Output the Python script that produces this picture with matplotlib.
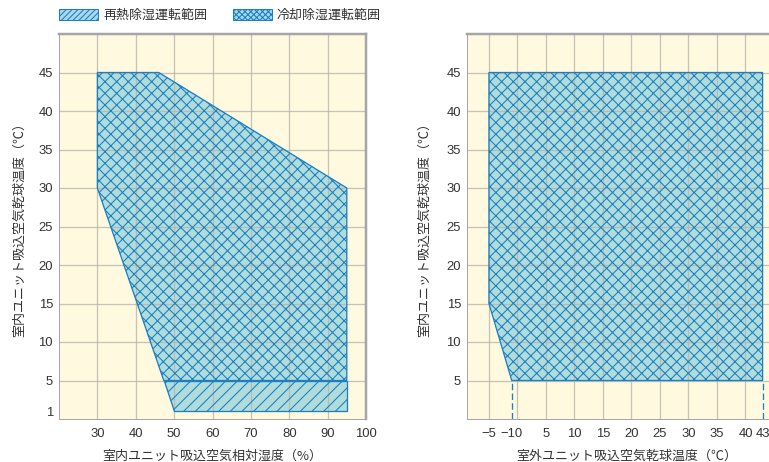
import matplotlib
matplotlib.use("Agg")
import matplotlib.pyplot as plt
from matplotlib.patches import Patch

# ---------------- data ----------------
# left chart: indoor relative humidity (%) vs indoor dry-bulb temperature (deg C)
cool_rh = [30, 46, 95, 95, 47.3, 30]
cool_t = [45, 45, 30, 5, 5, 30]
reheat_rh = [47.3, 95, 95, 50]
reheat_t = [5, 5, 1, 1]
left_xticks = [30, 40, 50, 60, 70, 80, 90, 100]
left_yticks = [1, 5, 10, 15, 20, 25, 30, 35, 40, 45]

# right chart: outdoor dry-bulb temperature vs indoor dry-bulb temperature
out_x = [-5, 43, 43, -1, -5]
out_t = [45, 45, 5, 5, 15]
out_limits = [-1, 43]
right_tick_pos = [-5, -1, 5, 10, 15, 20, 25, 30, 35, 40, 43]
right_tick_lbl = ["\u22125", "\u221210", "5", "10", "15", "20", "25", "30", "35", "40", "43"]
right_grid = [-5, 0, 5, 10, 15, 20, 25, 30, 35, 40]
right_yticks = [5, 10, 15, 20, 25, 30, 35, 40, 45]

legend_labels = ["再熱除湿運転範囲", "冷却除湿運転範囲"]
left_xlabel = "室内ユニット吸込空気相対湿度（%）"
left_ylabel = "室内ユニット吸込空気乾球温度（℃）"
right_xlabel = "室外ユニット吸込空気乾球温度（℃）"
right_ylabel = "室内ユニット吸込空気乾球温度（℃）"

# ---------------- style ----------------
DPI = 70
PX = 72 / DPI  # points per pixel
W, H = 769, 462
BG = "#fffadf"
FILL = "#b1dcdc"
BLUE = "#1a80c4"
GRID = "#b8b5aa"
SPINE = "#a6a6a6"
TXT = "#333333"
CJK = ["Noto Sans CJK JP", "DejaVu Sans"]
NUM = ["Liberation Sans", "DejaVu Sans"]

plt.rcParams["hatch.linewidth"] = 1.1
plt.rcParams["font.family"] = NUM

fig = plt.figure(figsize=(W / DPI, H / DPI), dpi=DPI, facecolor="white")
ax1 = fig.add_axes([59 / W, 43 / H, 307 / W, 385 / H])
ax2 = fig.add_axes([467 / W, 43 / H, 307 / W, 385 / H])


def style_axes(ax, right_thick):
    ax.set_facecolor(BG)
    for s in ax.spines.values():
        s.set_color(SPINE)
        s.set_linewidth(1 * PX)
    ax.spines["top"].set_linewidth(2.5 * PX)
    if right_thick:
        ax.spines["right"].set_linewidth(2.5 * PX)
    else:
        ax.spines["right"].set_visible(False)
    ax.tick_params(length=0, labelsize=13 * PX, colors=TXT)
    ax.tick_params(axis="x", pad=9 * PX)
    ax.tick_params(axis="y", pad=6 * PX)


def region(ax, xs, ys, hatch):
    ax.fill(xs, ys, facecolor=FILL, edgecolor="none", zorder=1)
    ax.fill(xs, ys, facecolor="none", edgecolor=BLUE, hatch=hatch,
            linewidth=1.3 * PX, zorder=3)


# ----- left chart -----
style_axes(ax1, True)
ax1.set_xlim(20, 100)
ax1.set_ylim(0, 50)
for x in left_xticks[:-1]:
    ax1.axvline(x, color=GRID, lw=1.3 * PX, zorder=2, alpha=0.8)
for y in left_yticks[1:]:
    ax1.axhline(y, color=GRID, lw=1.3 * PX, zorder=2, alpha=0.8)
region(ax1, cool_rh, cool_t, "xx")
region(ax1, reheat_rh, reheat_t, "//")
ax1.set_xticks(left_xticks)
ax1.set_yticks(left_yticks)
ax1.set_xlabel(left_xlabel, fontsize=13 * PX, color=TXT, family=CJK, va="center")
ax1.xaxis.set_label_coords(0.5, -0.096)
ax1.set_ylabel(left_ylabel, fontsize=13 * PX, color=TXT, family=CJK, va="center")
ax1.yaxis.set_label_coords((20 - 59) / 307, 0.5)

# ----- right chart -----
style_axes(ax2, False)
ax2.set_xlim(-8.85, 45)
ax2.set_ylim(0, 50)
for x in right_grid:
    ax2.axvline(x, color=GRID, lw=1.3 * PX, zorder=2, alpha=0.8)
for y in right_yticks:
    ax2.axhline(y, color=GRID, lw=1.3 * PX, zorder=2, alpha=0.8)
region(ax2, out_x, out_t, "xx")
ax2.vlines(out_limits, 0, 5, colors=BLUE, linestyles=(0, (5, 2.5)),
           lw=1.3 * PX, zorder=3)
ax2.set_xticks(right_tick_pos)
ax2.set_xticklabels(right_tick_lbl)
ax2.set_yticks(right_yticks)
ax2.set_xlabel(right_xlabel, fontsize=13 * PX, color=TXT, family=CJK, va="center")
ax2.xaxis.set_label_coords((627 - 467) / 307, -0.096)
ax2.set_ylabel(right_ylabel, fontsize=13 * PX, color=TXT, family=CJK, va="center")
ax2.yaxis.set_label_coords((425 - 467) / 307, 0.5)

# ----- legend -----
handles = [
    Patch(facecolor="#a9d8ee", edgecolor=BLUE, hatch="////", linewidth=1 * PX),
    Patch(facecolor="#a9d8ee", edgecolor=BLUE, hatch="xxxx", linewidth=1 * PX),
]
fs = 13 * PX
leg = fig.legend(handles, legend_labels, loc="upper left",
                 bbox_to_anchor=(59 / W, 1 - 9 / H), ncol=2, frameon=False,
                 prop={"family": CJK, "size": fs},
                 handlelength=39 / 13, handleheight=12 / 13,
                 handletextpad=5 / 13, columnspacing=26 / 13,
                 borderpad=0, borderaxespad=0)
for t in leg.get_texts():
    t.set_color(TXT)

fig.savefig("out.png", dpi=DPI, facecolor="white")
